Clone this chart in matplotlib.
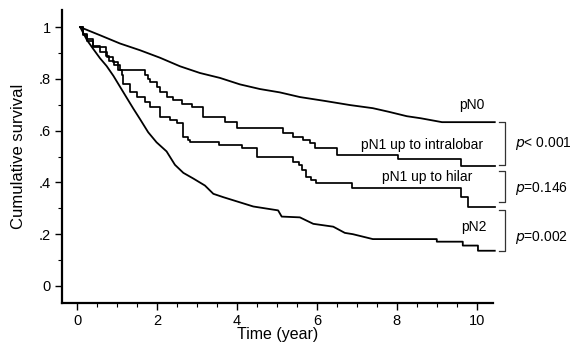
import matplotlib
matplotlib.use("Agg")
import matplotlib.pyplot as plt
from matplotlib.ticker import MultipleLocator

plt.rcParams['font.family'] = ['Liberation Sans', 'DejaVu Sans']

# Kaplan-Meier curves (time in years, cumulative survival)
# pN0 and pN2: vertices (drawn as a polyline)
t_pn0 = [0.08, 0.575, 1.075, 1.575, 2.075, 2.575, 3.075, 3.575, 4.075, 4.575, 5.075, 5.575,
         6.2, 6.83, 7.4, 7.8, 8.25, 8.6, 9.13, 10.45]
s_pn0 = [1.0, 0.969, 0.937, 0.911, 0.882, 0.849, 0.823, 0.804, 0.779, 0.761, 0.748, 0.730,
         0.715, 0.699, 0.687, 0.673, 0.656, 0.648, 0.633, 0.633]

t_pn2 = [0.08, 0.25, 0.41, 0.575, 0.74, 0.91, 1.075, 1.24, 1.41, 1.575, 1.78, 1.99, 2.24,
         2.45, 2.66, 2.91, 3.2, 3.41, 3.66, 3.91, 4.16, 4.41, 4.74, 5.03, 5.12, 5.575, 5.91,
         6.41, 6.7, 6.9, 7.4, 9.0, 9.0, 9.65, 9.65, 10.03, 10.03, 10.45]
s_pn2 = [1.0, 0.95, 0.915, 0.88, 0.85, 0.812, 0.77, 0.728, 0.685, 0.645, 0.594, 0.555, 0.52,
         0.468, 0.437, 0.415, 0.388, 0.356, 0.343, 0.331, 0.319, 0.307, 0.299, 0.292, 0.268,
         0.265, 0.24, 0.229, 0.205, 0.2, 0.181, 0.181, 0.171, 0.171, 0.156, 0.156, 0.136,
         0.136]

# pN1 curves: step functions (steps-post)
t_intra = [0.08, 0.15, 0.25, 0.4, 0.72, 0.8, 0.92, 1.08, 1.7, 1.78, 1.83, 1.99, 2.08, 2.24,
           2.41, 2.62, 2.87, 3.16, 3.7, 4.0, 5.16, 5.4, 5.66, 5.83, 5.95, 6.5, 8.03, 9.6,
           10.45]
s_intra = [1.0, 0.97, 0.945, 0.925, 0.89, 0.87, 0.855, 0.835, 0.815, 0.8, 0.789, 0.77, 0.75,
           0.731, 0.718, 0.705, 0.692, 0.654, 0.634, 0.609, 0.59, 0.577, 0.564, 0.551, 0.532,
           0.506, 0.489, 0.463, 0.463]

t_hilar = [0.08, 0.15, 0.24, 0.41, 0.575, 0.74, 0.91, 1.03, 1.12, 1.16, 1.325, 1.49, 1.7,
           1.83, 2.08, 2.33, 2.49, 2.66, 2.78, 2.83, 3.55, 4.12, 4.49, 5.4, 5.55, 5.62, 5.74,
           5.85, 5.99, 6.87, 9.6, 9.78, 10.45]
s_hilar = [1.0, 0.975, 0.955, 0.929, 0.904, 0.885, 0.865, 0.833, 0.814, 0.782, 0.75, 0.731,
           0.712, 0.692, 0.654, 0.64, 0.628, 0.576, 0.564, 0.557, 0.544, 0.532, 0.499, 0.48,
           0.467, 0.448, 0.42, 0.41, 0.396, 0.377, 0.345, 0.306, 0.306]

curve_labels = ["pN0", "pN1 up to intralobar", "pN1 up to hilar", "pN2"]
label_pos = [(10.2, 0.699), (10.17, 0.546), (9.9, 0.421), (10.25, 0.226)]

# comparison brackets (top, bottom) and p-values
brackets = [(0.633, 0.467), (0.445, 0.323), (0.293, 0.135)]
p_texts = ["< 0.001", "=0.146", "=0.002"]
p_y = [0.552, 0.378, 0.189]

x_ticks = [0, 2, 4, 6, 8, 10]
y_ticks = [0, 0.2, 0.4, 0.6, 0.8, 1.0]
y_ticklabels = ["0", ".2", ".4", ".6", ".8", "1"]

fig = plt.figure(figsize=(5.77, 3.49), dpi=100)
ax = fig.add_axes([0.1075, 0.1318, 0.854 - 0.1075, 0.971 - 0.1318])

ax.plot(t_pn0, s_pn0, color='black', lw=1.3, clip_on=False)
ax.plot(t_intra, s_intra, drawstyle='steps-post', color='black', lw=1.25, clip_on=False)
ax.plot(t_hilar, s_hilar, drawstyle='steps-post', color='black', lw=1.25, clip_on=False)
ax.plot(t_pn2, s_pn2, color='black', lw=1.3, clip_on=False)

for lab, (x, y) in zip(curve_labels, label_pos):
    ax.text(x, y, lab, ha='right', va='center', fontsize=10)

for (top, bot) in brackets:
    ax.plot([10.55, 10.7, 10.7, 10.55], [top, top, bot, bot], color='#333333', lw=0.9,
            clip_on=False)

for txt, y in zip(p_texts, p_y):
    ax.text(10.95, y, r"$\it{p}$" + txt, ha='left', va='center', fontsize=10)

ax.set_xlim(-0.375, 10.4)
ax.set_ylim(-0.066, 1.066)
ax.set_xticks(x_ticks)
ax.set_yticks(y_ticks)
ax.set_yticklabels(y_ticklabels)
ax.xaxis.set_minor_locator(MultipleLocator(0.5))
ax.yaxis.set_minor_locator(MultipleLocator(0.1))
ax.tick_params(which='major', length=5, width=1.0, labelsize=10.5, pad=3)
ax.tick_params(which='minor', length=3, width=0.8)
for side in ['top', 'right']:
    ax.spines[side].set_visible(False)
for side in ['left', 'bottom']:
    ax.spines[side].set_linewidth(1.6)

ax.set_xlabel("Time (year)", fontsize=11.5, labelpad=-1)
ax.set_ylabel("Cumulative survival", fontsize=12, labelpad=9)

fig.savefig("out.png", dpi=100)
